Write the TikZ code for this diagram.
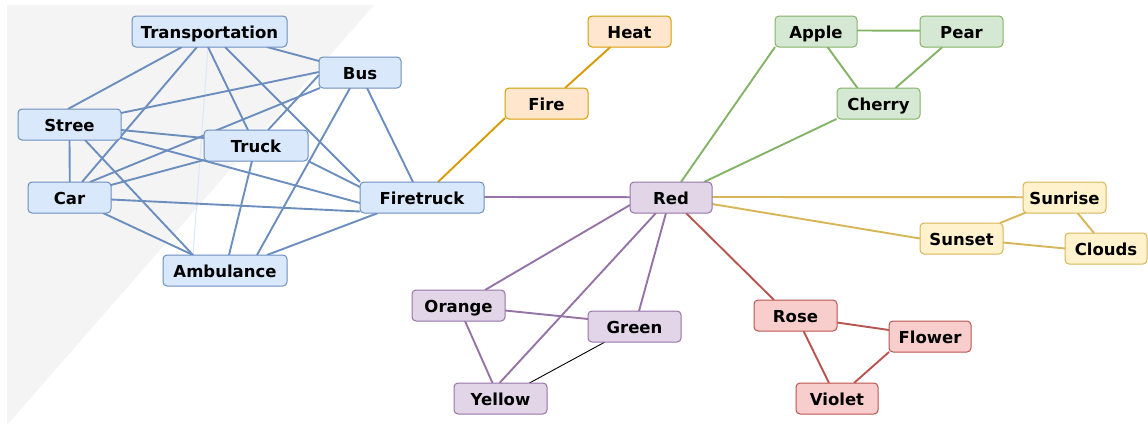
\documentclass[tikz,border=0pt]{standalone}
\usepackage{fontspec}
\setmainfont{DejaVu Sans}
\usetikzlibrary{backgrounds}
\definecolor{bfill}{HTML}{DAE8FC}\definecolor{bline}{HTML}{6C8EBF}
\definecolor{ofill}{HTML}{FFE6CC}\definecolor{oline}{HTML}{D79B00}
\definecolor{gfill}{HTML}{D5E8D4}\definecolor{gline}{HTML}{82B366}
\definecolor{pfill}{HTML}{E1D5E7}\definecolor{pline}{HTML}{9673A6}
\definecolor{yfill}{HTML}{FFF2CC}\definecolor{yline}{HTML}{D6B656}
\definecolor{rfill}{HTML}{F8CECC}\definecolor{rline}{HTML}{B85450}
\definecolor{bggray}{HTML}{F4F4F4}
\tikzset{
  box/.style={rectangle, rounded corners=4pt, line width=1pt, minimum height=31pt,
    inner sep=0pt, text height=14pt, text depth=0pt,
    font=\fontsize{16.5}{19}\selectfont\bfseries, text=black},
  bluebox/.style={box, draw=bline, fill=bfill},
  orangebox/.style={box, draw=oline, fill=ofill},
  greenbox/.style={box, draw=gline, fill=gfill},
  purplebox/.style={box, draw=pline, fill=pfill},
  yellowbox/.style={box, draw=yline, fill=yfill},
  redbox/.style={box, draw=rline, fill=rfill},
  link/.style={line width=1.9pt},
  blink/.style={link, draw=bline},
  olink/.style={link, draw=oline},
  glink/.style={link, draw=gline},
  plink/.style={link, draw=pline},
  ylink/.style={link, draw=yline},
  rlink/.style={link, draw=rline},
  faintlink/.style={draw=bfill, line width=1pt},
  thinlink/.style={draw=black, line width=0.9pt},
}
\newcommand\lnk[7]{\draw[#1] ([shift={(#3,#4)}]#2.center) -- ([shift={(#6,#7)}]#5.center);}
\begin{document}
\begin{tikzpicture}[x=1pt,y=-1pt]
\useasboundingbox (0,0) rectangle (1148,426);
% nodes
\node[bluebox, minimum width=155pt] (tr) at (209.5,31.5) {Transportation};
\node[bluebox, minimum width=82pt] (bus) at (360,72.5) {Bus};
\node[bluebox, minimum width=103pt] (st) at (69.5,124.5) {Stree};
\node[bluebox, minimum width=104pt] (tk) at (256,145.5) {Truck};
\node[bluebox, minimum width=83pt] (car) at (69.5,197.5) {Car};
\node[bluebox, minimum width=124pt] (ft) at (422,197.5) {Firetruck};
\node[bluebox, minimum width=124pt] (amb) at (225,270.5) {Ambulance};
\node[orangebox, minimum width=83pt] (heat) at (629.5,31.5) {Heat};
\node[orangebox, minimum width=83pt] (fire) at (546.5,103.5) {Fire};
\node[greenbox, minimum width=82pt] (apple) at (816,31.5) {Apple};
\node[greenbox, minimum width=83pt] (pear) at (961.5,31.5) {Pear};
\node[greenbox, minimum width=83pt] (cherry) at (878.5,103.5) {Cherry};
\node[purplebox, minimum width=82pt] (red) at (671,197.5) {Red};
\node[yellowbox, minimum width=83pt] (sunrise) at (1064.5,197.5) {Sunrise};
\node[yellowbox, minimum width=83pt] (sunset) at (961.5,238.5) {Sunset};
\node[yellowbox, minimum width=82pt] (clouds) at (1106,248.5) {Clouds};
\node[purplebox, minimum width=93pt] (orange) at (458.5,305.5) {Orange};
\node[purplebox, minimum width=93pt] (green) at (634.5,326.5) {Green};
\node[purplebox, minimum width=93pt] (yellow) at (500.5,398.5) {Yellow};
\node[redbox, minimum width=83pt] (rose) at (795.5,315.5) {Rose};
\node[redbox, minimum width=82pt] (flower) at (930,336.5) {Flower};
\node[redbox, minimum width=82pt] (violet) at (837,398.5) {Violet};
\begin{pgfonlayer}{background}
\fill[bggray] (7,5) -- (374,5) -- (7,425) -- cycle;
% blue cluster
\lnk{faintlink}{tr}{-1.5}{16}{amb}{-32}{-15.5}
\lnk{blink}{st}{-1.5}{-15.5}{tr}{-27.5}{15.5}
\lnk{blink}{car}{12.5}{-15.5}{tr}{-12.5}{15.5}
\lnk{blink}{tr}{-1.5}{15.5}{tk}{-8}{-15.5}
\lnk{blink}{tr}{15.5}{15.5}{ft}{-62}{-15.5}
\lnk{blink}{tr}{57.5}{15.5}{bus}{-41}{-11.5}
\lnk{blink}{bus}{-41}{-0.5}{st}{51.5}{-11.5}
\lnk{blink}{bus}{-40}{15.5}{car}{20.5}{-15.5}
\lnk{blink}{bus}{-41}{2.5}{tk}{12}{-15.5}
\lnk{blink}{bus}{-10}{15.5}{amb}{32}{-15.5}
\lnk{blink}{bus}{7}{15.5}{ft}{-9}{-15.5}
\lnk{blink}{st}{0}{15.5}{car}{0.3}{-15.5}
\lnk{blink}{st}{51.5}{5.5}{tk}{-52}{-7.5}
\lnk{blink}{st}{51.5}{13.5}{ft}{-62}{5.5}
\lnk{blink}{st}{15.5}{15.5}{amb}{-32}{-15.5}
\lnk{blink}{tk}{-52}{14.5}{car}{41.5}{-12.5}
\lnk{blink}{tk}{-4}{15.5}{amb}{4}{-15.5}
\lnk{blink}{tk}{52}{15.5}{ft}{-62}{-10.5}
\lnk{blink}{car}{41.5}{2}{ft}{-62}{14}
\lnk{blink}{car}{33.5}{15.5}{amb}{-32}{-15.5}
\lnk{blink}{ft}{-44}{15.5}{amb}{42}{-15.5}
% orange
\lnk{olink}{ft}{16}{-15.5}{fire}{-41.5}{14.5}
\lnk{olink}{fire}{18.5}{-15.5}{heat}{-19}{15.5}
% purple
\lnk{plink}{ft}{62}{-0.5}{red}{-41}{-0.3}
\lnk{plink}{red}{-41}{7.5}{orange}{26.5}{-15.5}
\lnk{plink}{red}{-15}{15.5}{yellow}{-1}{-15.5}
\lnk{plink}{red}{-5}{15.5}{green}{4.5}{-15.5}
\lnk{plink}{orange}{46.5}{5}{green}{-46.5}{-7.5}
\lnk{plink}{orange}{6.5}{15.5}{yellow}{-8}{-15.5}
\lnk{thinlink}{yellow}{29}{-15.5}{green}{-29.5}{15.5}
% green
\lnk{glink}{red}{10}{-15.5}{apple}{-41}{15.5}
\lnk{glink}{red}{33}{-15.5}{cherry}{-42}{15.5}
\lnk{glink}{apple}{41}{-1}{pear}{-41.5}{-0.8}
\lnk{glink}{apple}{11.5}{15.5}{cherry}{-21}{-15.5}
\lnk{glink}{pear}{-19}{15.5}{cherry}{17}{-15.5}
% yellow
\lnk{ylink}{red}{41}{-0.5}{sunrise}{-41.5}{-0.3}
\lnk{ylink}{red}{41}{6.5}{sunset}{-41.5}{0}
\lnk{ylink}{sunset}{38.5}{-15.5}{sunrise}{-38.5}{15}
\lnk{ylink}{sunrise}{13}{15.5}{clouds}{-12}{-15.5}
\lnk{ylink}{sunset}{41.5}{4}{clouds}{-41}{0}
% red
\lnk{rlink}{red}{15}{15.5}{rose}{-21.5}{-15.5}
\lnk{rlink}{rose}{41.5}{7}{flower}{-41}{-6.5}
\lnk{rlink}{rose}{8}{15.5}{violet}{-8}{-15.5}
\lnk{rlink}{flower}{-41}{15.5}{violet}{17}{-15.5}
\end{pgfonlayer}
\end{tikzpicture}
\end{document}
